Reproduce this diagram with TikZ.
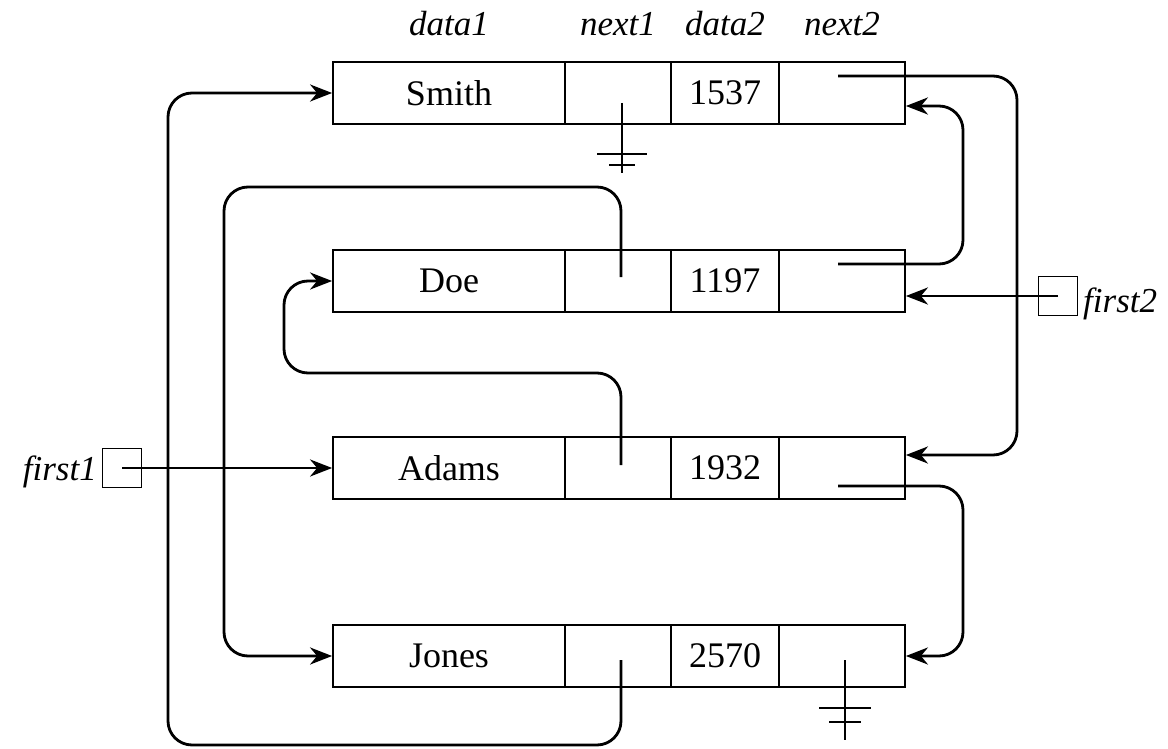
\documentclass[tikz,border=0pt]{standalone}
\usepackage{fontspec}
\setmainfont{Liberation Serif}
\usetikzlibrary{arrows.meta,calc}
\begin{document}
\begin{tikzpicture}[x=1pt,y=-1pt,
  cell/.style={draw,line width=1.8pt,minimum height=62pt,inner sep=0pt,font=\fontsize{36}{40}\selectfont},
  ptr/.style={line width=2.8pt,rounded corners=24pt,-{Stealth[length=22pt,width=17pt,inset=7pt]}},
  lbl/.style={font=\fontsize{35}{40}\selectfont\itshape,inner sep=0pt},
  gnd/.style={line width=1.6pt},
  pbox/.style={draw,line width=1.6pt,minimum width=39pt,minimum height=39pt,inner sep=0pt}]
\useasboundingbox (0,0) rectangle (1168,749);
% header labels
\node[lbl,anchor=base] (h1) at (449,36) {data1};
\node[lbl,anchor=base] (h2) at (618,36) {next1};
\node[lbl,anchor=base] (h3) at (725,36) {data2};
\node[lbl,anchor=base] (h4) at (842,36) {next2};
% records
\node[cell,minimum width=232pt] (s1) at (449,93) {Smith};
\node[cell,minimum width=106pt] (s2) at (618,93) {};
\node[cell,minimum width=108pt] (s3) at (725,93) {1537};
\node[cell,minimum width=126pt] (s4) at (842,93) {};
\node[cell,minimum width=232pt] (d1) at (449,281) {Doe};
\node[cell,minimum width=106pt] (d2) at (618,281) {};
\node[cell,minimum width=108pt] (d3) at (725,281) {1197};
\node[cell,minimum width=126pt] (d4) at (842,281) {};
\node[cell,minimum width=232pt] (a1) at (449,468) {Adams};
\node[cell,minimum width=106pt] (a2) at (618,468) {};
\node[cell,minimum width=108pt] (a3) at (725,468) {1932};
\node[cell,minimum width=126pt] (a4) at (842,468) {};
\node[cell,minimum width=232pt] (j1) at (449,656) {Jones};
\node[cell,minimum width=106pt] (j2) at (618,656) {};
\node[cell,minimum width=108pt] (j3) at (725,656) {2570};
\node[cell,minimum width=126pt] (j4) at (842,656) {};
% external pointers
\node[pbox] (f1) at (122,468) {};
\node[lbl,anchor=base east] (f1t) at (97,480) {first1};
\node[pbox] (f2) at (1058,296) {};
\node[lbl,anchor=base west] (f2t) at (1083,312) {first2};
% coordinates
\coordinate (sOut) at ($(s4.center)+(-4,-17)$);
\coordinate (sIn) at ($(s4.east)+(0,13)$);
\coordinate (dOut) at ($(d4.center)+(-4,-17)$);
\coordinate (dIn) at ($(d4.east)+(0,15)$);
\coordinate (aOut) at ($(a4.center)+(-4,18)$);
\coordinate (aIn) at ($(a4.east)+(0,-13)$);
\coordinate (busA) at (1017,0);
\coordinate (busB) at (963,0);
\coordinate (dN) at ($(d2.center)+(3,-4)$);
\coordinate (aN) at ($(a2.center)+(3,-3)$);
\coordinate (jN) at ($(j2.center)+(3,4)$);
\coordinate (topD) at (224,187);
\coordinate (midA) at (284,373);
\coordinate (botJ) at (168,745);
% next2 chain
\draw[ptr] (sOut) -| (busA |- aIn) -- (aIn);
\draw[ptr] (dOut) -| (busB |- sIn) -- (sIn);
\draw[ptr] (aOut) -| (busB |- j4.east) -- (j4.east);
\draw[ptr] (f2.center) -- (dIn);
% next1 chain
\draw[ptr] (f1.center) -- (a1.west);
\draw[ptr] (dN) |- (topD) |- (j1.west);
\draw[ptr] (aN) |- (midA) |- (d1.west);
\draw[ptr] (jN) |- (botJ) |- (s1.west);
% null grounds
\coordinate (g1) at ($(s2.center)+(4,10)$);
\draw[gnd] (g1) -- ++(0,70);
\draw[gnd] ($(g1)+(-25,51)$) -- ++(50,0);
\draw[gnd] ($(g1)+(-13,62)$) -- ++(26,0);
\coordinate (g2) at ($(j4.center)+(3,4)$);
\draw[gnd] (g2) -- ++(0,80);
\draw[gnd] ($(g2)+(-26,48)$) -- ++(52,0);
\draw[gnd] ($(g2)+(-16,62)$) -- ++(32,0);
\end{tikzpicture}
\end{document}
